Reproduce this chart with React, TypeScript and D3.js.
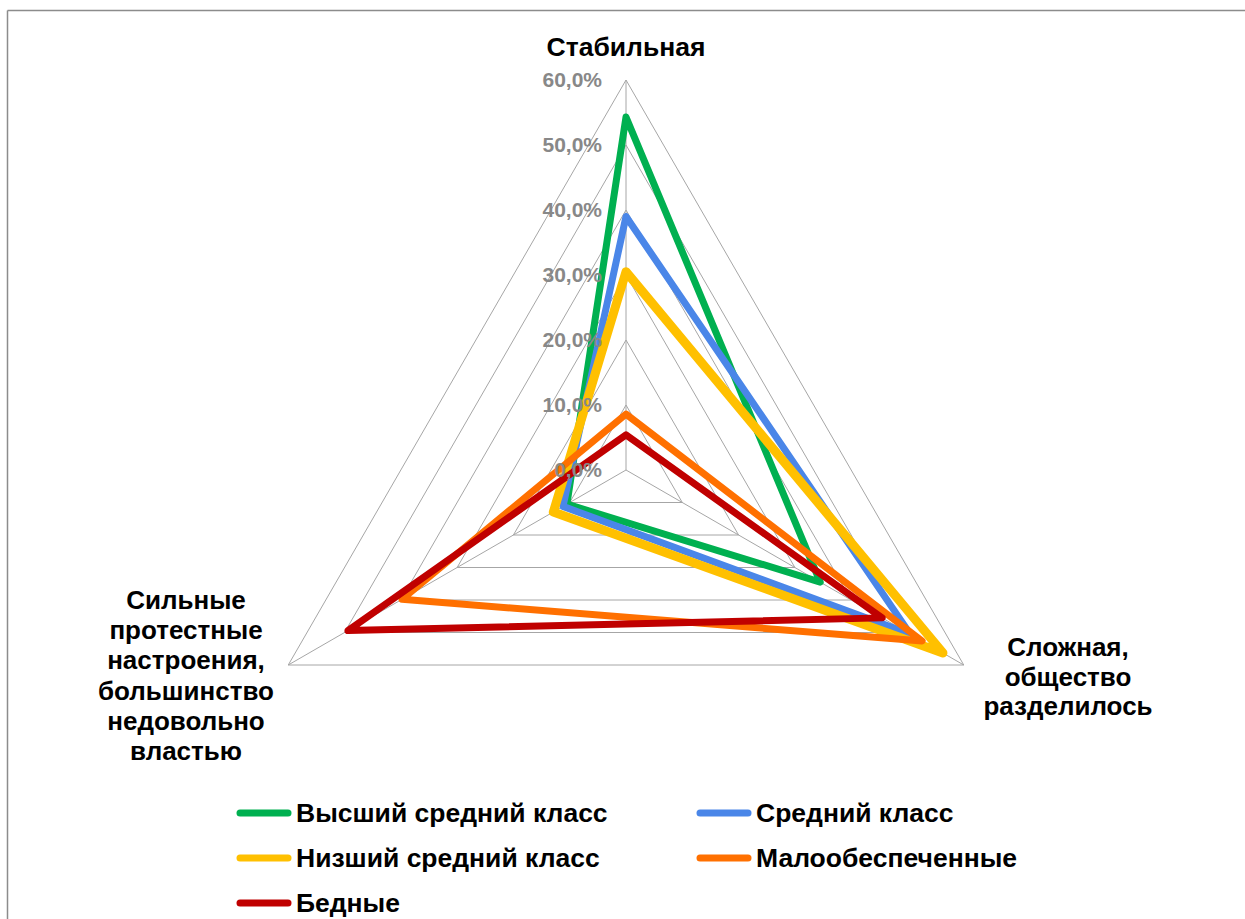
import React from "react";
import * as d3 from "d3";

const axisLabels: string[][] = [
  ["Стабильная"],
  ["Сложная,", "общество", "разделилось"],
  ["Сильные", "протестные", "настроения,", "большинство", "недовольно", "властью"],
];
const tickValues = [0, 10, 20, 30, 40, 50, 60];
const tickLabels = ["0,0%", "10,0%", "20,0%", "30,0%", "40,0%", "50,0%", "60,0%"];

const seriesNames = ["Высший средний класс", "Средний класс", "Низший средний класс", "Малообеспеченные", "Бедные"];
const seriesColors = ["#00b050", "#4a86e8", "#ffc000", "#ff7000", "#c00000"];
const seriesWidths = [7, 7, 9, 7, 7];
const upperMiddle = [54.3, 34.5, 10.5];
const middle = [39.0, 50.5, 11.2];
const lowerMiddle = [30.5, 56.3, 12.9];
const lowIncome = [8.6, 52.6, 39.8];
const poor = [5.4, 45.5, 49.4];
const seriesValues = [upperMiddle, middle, lowerMiddle, lowIncome, poor];

const W = 1245;
const H = 919;
const cx = 626;
const cy = 470;
const R = 390;

export default function App() {
  const r = d3.scaleLinear().domain([0, 60]).range([0, R]);
  const angle = d3.scaleOrdinal<number, number>().domain([0, 1, 2]).range([0, (2 * Math.PI) / 3, (4 * Math.PI) / 3]);
  const pt = (i: number, v: number): [number, number] => {
    const a = angle(i);
    return [cx + r(v) * Math.sin(a), cy - r(v) * Math.cos(a)];
  };
  const closed = d3.line().curve(d3.curveLinearClosed);
  const font = "'Liberation Sans', Arial, sans-serif";

  return (
    <div style={{ position: "absolute", left: 0, top: 0 }}>
      <svg width={W} height={H} style={{ display: "block", background: "#fff" }}>
        <line x1={7.5} y1={10.5} x2={W} y2={10.5} stroke="#8c8c8c" strokeWidth={1.5} />
        <line x1={7.5} y1={10.5} x2={7.5} y2={H} stroke="#8c8c8c" strokeWidth={1.5} />
        {/* grid */}
        {tickValues.filter((t) => t > 0).map((t) => (
          <path key={t} d={closed([0, 1, 2].map((i) => pt(i, t))) || ""} fill="none" stroke="#a6a6a6" strokeWidth={1} />
        ))}
        {[0, 1, 2].map((i) => {
          const [x, y] = pt(i, 60);
          return <line key={i} x1={cx} y1={cy} x2={x} y2={y} stroke="#a6a6a6" strokeWidth={1} />;
        })}
        {/* series */}
        {seriesValues.map((vals, s) => (
          <path
            key={s}
            d={closed(vals.map((v, i) => pt(i, v))) || ""}
            fill="none"
            stroke={seriesColors[s]}
            strokeWidth={seriesWidths[s]}
            strokeLinejoin="round"
          />
        ))}
        {/* tick labels */}
        {tickValues.map((t, k) => (
          <text
            key={t}
            x={602}
            y={cy - r(t) + 7}
            textAnchor="end"
            fontFamily={font}
            fontWeight="bold"
            fontSize={21}
            fill="#888888"
          >
            {tickLabels[k]}
          </text>
        ))}
        {/* axis labels */}
        <text x={626} y={56} textAnchor="middle" fontFamily={font} fontWeight="bold" fontSize={26.5} fill="#000">
          {axisLabels[0][0]}
        </text>
        {axisLabels[1].map((l, k) => (
          <text key={k} x={1068} y={656 + k * 29.5} textAnchor="middle" fontFamily={font} fontWeight="bold" fontSize={26} fill="#000">
            {l}
          </text>
        ))}
        {axisLabels[2].map((l, k) => (
          <text key={k} x={186} y={609 + k * 30.2} textAnchor="middle" fontFamily={font} fontWeight="bold" fontSize={26} fill="#000">
            {l}
          </text>
        ))}
        {/* legend */}
        {seriesNames.map((n, s) => {
          const col = s % 2;
          const row = Math.floor(s / 2);
          const x0 = col === 0 ? 240 : 700;
          const y0 = 813 + row * 45;
          return (
            <g key={n}>
              <line x1={x0} y1={y0} x2={x0 + 48} y2={y0} stroke={seriesColors[s]} strokeWidth={7} strokeLinecap="round" />
              <text x={x0 + 56} y={y0 + 9} fontFamily={font} fontWeight="bold" fontSize={26.5} fill="#000">
                {n}
              </text>
            </g>
          );
        })}
      </svg>
    </div>
  );
}
